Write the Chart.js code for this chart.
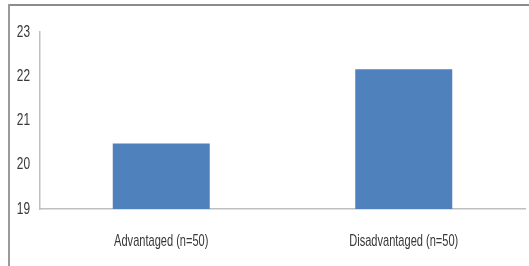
<!DOCTYPE html>
<html>
<head>
<meta charset="utf-8">
<script src="https://cdn.jsdelivr.net/npm/chart.js@4"></script>
<style>
  html, body { margin: 0; padding: 0; background: #fff; }
  #wrap { position: relative; width: 529px; height: 266px; overflow: hidden; }
  #bordeTop { position: absolute; left: 8px; top: 4px; width: 521px; height: 2px; background: #8c8c8c; }
  #bordeLeft { position: absolute; left: 8px; top: 4px; width: 2px; height: 262px; background: #9a9a9a; }
  canvas { position: absolute; left: 0; top: 0; }
</style>
</head>
<body>
<div id="wrap">
  <div id="bordeTop"></div>
  <div id="bordeLeft"></div>
  <canvas id="chart1" width="529" height="266"></canvas>
</div>
<script>
// Datos del gráfico
const categorias = ['Advantaged (n=50)', 'Disadvantaged (n=50)'];
const valores = [20.48, 22.16];
const ejeMin = 19;
const ejeMax = 23;

const fuente = "'Liberation Sans', Arial, sans-serif";
const colorTexto = '#383838';

// Dibuja las etiquetas de los ejes comprimidas en horizontal (letra estrecha tipo Calibri)
const etiquetasEstrechas = {
  id: 'etiquetasEstrechas',
  afterDraw(chart) {
    const c = chart.ctx;
    const escalaY = chart.scales.y;
    const escalaX = chart.scales.x;
    c.save();
    c.fillStyle = colorTexto;
    c.font = `17px ${fuente}`;
    c.textBaseline = 'middle';

    escalaY.ticks.forEach((t, i) => {
      const py = escalaY.getPixelForTick(i);
      c.save();
      c.translate(escalaY.right - 10, py);
      c.scale(0.7, 1);
      c.textAlign = 'right';
      c.fillText(t.label, 0, 0);
      c.restore();
    });

    escalaX.ticks.forEach((t, i) => {
      const px = escalaX.getPixelForTick(i);
      c.save();
      c.translate(px, chart.chartArea.bottom + 32);
      c.scale(0.65, 1);
      c.textAlign = 'center';
      c.fillText(t.label, 0, 0);
      c.restore();
    });
    c.restore();
  }
};

const ctx = document.getElementById('chart1').getContext('2d');
const chart1 = new Chart(ctx, {
  type: 'bar',
  data: {
    labels: categorias,
    datasets: [{
      data: valores,
      backgroundColor: '#4f81bd',
      borderWidth: 0,
      categoryPercentage: 1,
      barPercentage: 0.4
    }]
  },
  options: {
    responsive: false,
    animation: false,
    layout: { padding: { left: 0, top: 32, right: 4, bottom: 0 } },
    plugins: {
      legend: { display: false },
      tooltip: { enabled: false }
    },
    scales: {
      x: {
        grid: { display: false, drawTicks: false },
        border: { color: '#bfbfbf', width: 1.5 },
        ticks: { color: 'rgba(0,0,0,0)', font: { family: fuente, size: 15 }, padding: 22 },
        afterFit: scale => { scale.height = 57; }
      },
      y: {
        min: ejeMin,
        max: ejeMax,
        grid: { display: false, drawTicks: false },
        border: { color: '#bfbfbf', width: 1.5 },
        ticks: { stepSize: 1, color: 'rgba(0,0,0,0)', font: { family: fuente, size: 15 }, padding: 10 },
        afterFit: scale => { scale.width = 40; }
      }
    }
  },
  plugins: [etiquetasEstrechas]
});
</script>
</body>
</html>
